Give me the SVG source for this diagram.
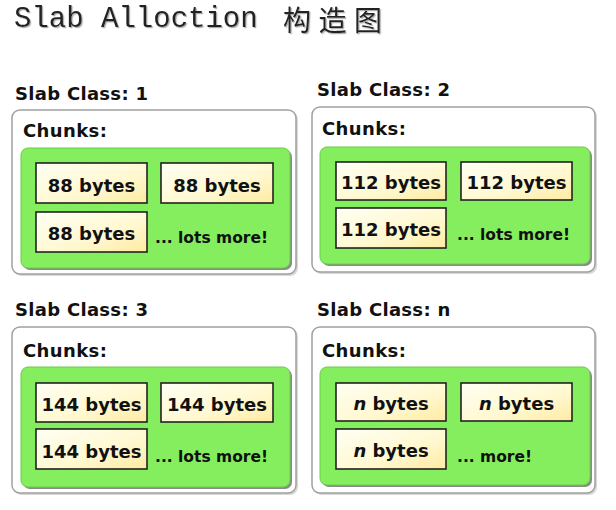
<svg xmlns="http://www.w3.org/2000/svg" width="616" height="510" viewBox="0 0 616 510">
<defs>
<linearGradient id="chunkGrad" x1="0" y1="0" x2="1" y2="1">
<stop offset="0" stop-color="#fffff4"/>
<stop offset="0.6" stop-color="#fff8d0"/>
<stop offset="1" stop-color="#ffeaa0"/>
</linearGradient>
<filter id="titleShadow" filterUnits="userSpaceOnUse" x="0" y="0" width="420" height="50">
<feDropShadow dx="1.2" dy="1.2" stdDeviation="0.6" flood-color="#999" flood-opacity="0.8"/>
</filter>
</defs>
<style>
.title{font-family:"Liberation Mono","Noto Sans CJK SC",monospace;font-size:29px;fill:#222;}
.cjk{font-family:"Noto Sans CJK SC",sans-serif;font-size:28px;fill:#222;}
.cls{font-family:"DejaVu Sans","Liberation Sans",sans-serif;font-weight:bold;font-size:18px;fill:#111;letter-spacing:0.3px;}
.chk{font-family:"DejaVu Sans","Liberation Sans",sans-serif;font-weight:bold;font-size:18px;fill:#111;letter-spacing:0.4px;}
.outer{fill:#fff;stroke:#a0a0a0;stroke-width:1.5;}
.outerSh{fill:#d8d8d8;}
.green{fill:#84ee5e;stroke:#6ccc48;stroke-width:1;}
.greenSh{fill:#8a8a8a;}
.chunk{fill:url(#chunkGrad);stroke:#222;stroke-width:1.6;}
.ct{font-family:"DejaVu Sans","Liberation Sans",sans-serif;font-weight:bold;font-size:18px;fill:#111;text-anchor:middle;}
.more{font-family:"DejaVu Sans","Liberation Sans",sans-serif;font-weight:bold;font-size:15.5px;fill:#111;}
</style>
<g id="title" filter="url(#titleShadow)">
<text class="title" x="14" y="27">Slab Alloction</text>
<text class="cjk" x="283" y="31" textLength="99">构造图</text>
</g>

<g id="slab1">
<text class="cls" x="15" y="100">Slab Class: 1</text>
<rect class="outerSh" x="14" y="112" width="284" height="164" rx="8"/>
<rect class="outer" x="12" y="110" width="284" height="164" rx="8"/>
<text class="chk" x="23" y="137">Chunks:</text>
<rect class="greenSh" x="23" y="150" width="269" height="120" rx="7"/>
<rect class="green" x="21" y="148" width="269" height="120" rx="7"/>
<g id="slab1-c1"><rect class="chunk" x="36" y="163" width="111" height="40"/><text class="ct" x="91.5" y="192">88 bytes</text></g>
<g id="slab1-c2"><rect class="chunk" x="161" y="163" width="112" height="40"/><text class="ct" x="217" y="192">88 bytes</text></g>
<g id="slab1-c3"><rect class="chunk" x="36" y="212" width="111" height="40"/><text class="ct" x="91.5" y="240">88 bytes</text></g>
<text class="more" x="155" y="243">... lots more!</text>
</g>

<g id="slab2">
<text class="cls" x="317" y="96">Slab Class: 2</text>
<rect class="outerSh" x="314" y="109" width="283" height="165" rx="8"/>
<rect class="outer" x="312" y="107" width="283" height="165" rx="8"/>
<text class="chk" x="322" y="135">Chunks:</text>
<rect class="greenSh" x="322" y="149" width="270" height="117" rx="7"/>
<rect class="green" x="320" y="147" width="270" height="117" rx="7"/>
<g id="slab2-c1"><rect class="chunk" x="336" y="162" width="110" height="38"/><text class="ct" x="391" y="189">112 bytes</text></g>
<g id="slab2-c2"><rect class="chunk" x="461" y="162" width="111" height="38"/><text class="ct" x="516.5" y="189">112 bytes</text></g>
<g id="slab2-c3"><rect class="chunk" x="336" y="208" width="110" height="40"/><text class="ct" x="391" y="236">112 bytes</text></g>
<text class="more" x="457" y="240">... lots more!</text>
</g>

<g id="slab3">
<text class="cls" x="15" y="316">Slab Class: 3</text>
<rect class="outerSh" x="14" y="329" width="284" height="166" rx="8"/>
<rect class="outer" x="12" y="327" width="284" height="166" rx="8"/>
<text class="chk" x="23" y="357">Chunks:</text>
<rect class="greenSh" x="23" y="369" width="269" height="120" rx="7"/>
<rect class="green" x="21" y="367" width="269" height="120" rx="7"/>
<g id="slab3-c1"><rect class="chunk" x="36" y="383" width="111" height="39"/><text class="ct" x="91.5" y="411">144 bytes</text></g>
<g id="slab3-c2"><rect class="chunk" x="161" y="383" width="112" height="39"/><text class="ct" x="217" y="411">144 bytes</text></g>
<g id="slab3-c3"><rect class="chunk" x="36" y="429" width="111" height="40"/><text class="ct" x="91.5" y="458">144 bytes</text></g>
<text class="more" x="155" y="462">... lots more!</text>
</g>

<g id="slabn">
<text class="cls" x="317" y="316">Slab Class: n</text>
<rect class="outerSh" x="314" y="329" width="283" height="166" rx="8"/>
<rect class="outer" x="312" y="327" width="283" height="166" rx="8"/>
<text class="chk" x="322" y="357">Chunks:</text>
<rect class="greenSh" x="322" y="369" width="270" height="118" rx="7"/>
<rect class="green" x="320" y="367" width="270" height="118" rx="7"/>
<g id="slabn-c1"><rect class="chunk" x="336" y="383" width="110" height="38"/><text class="ct" x="391" y="410"><tspan font-style="italic">n</tspan> bytes</text></g>
<g id="slabn-c2"><rect class="chunk" x="461" y="383" width="111" height="38"/><text class="ct" x="516.5" y="410"><tspan font-style="italic">n</tspan> bytes</text></g>
<g id="slabn-c3"><rect class="chunk" x="336" y="429" width="110" height="40"/><text class="ct" x="391" y="457"><tspan font-style="italic">n</tspan> bytes</text></g>
<text class="more" x="457" y="462">... more!</text>
</g>
</svg>
